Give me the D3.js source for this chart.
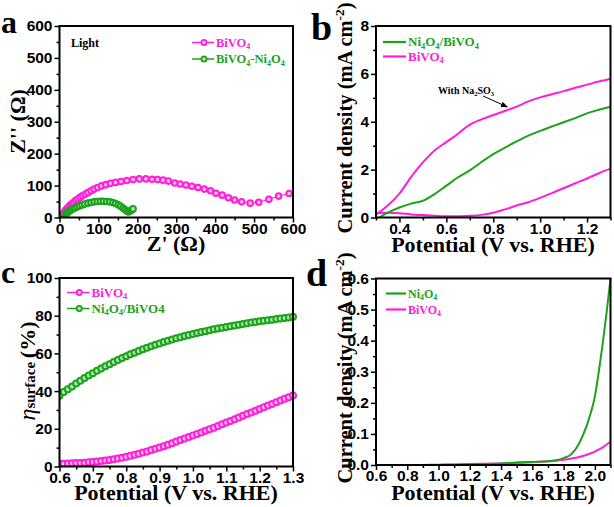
<!DOCTYPE html>
<html>
<head>
<meta charset="utf-8">
<script src="https://cdn.jsdelivr.net/npm/d3@7"></script>
<style>
body { margin: 0; background: #fff; }
svg { font-family: "Liberation Serif", "Times New Roman", serif; font-weight: bold; }
.tick text { font-size: 15.5px; font-weight: bold; fill: #000; }
.tick line { stroke: #000; stroke-width: 1.5; }
</style>
</head>
<body>
<div id="fig"></div>
<script>
// ---- panel a : Nyquist plot (Z', Z'') ----
var eisBiZre = [5, 7, 9, 11, 13, 16, 19, 23, 27, 31, 36, 41, 47, 53, 59, 66, 73, 81, 89, 98, 108, 119, 131, 144, 158, 173, 189, 205, 222, 238, 252, 266, 280, 296, 310, 325, 340, 356, 372, 388, 402, 418, 434, 450, 468, 490, 512, 538, 563, 590];
var eisBiZim = [1, 5, 10, 14, 18, 23, 28, 33, 38, 42, 47, 53, 58, 63, 68, 73, 78, 84, 89, 94, 99, 103, 107, 110, 113, 116, 119, 121, 121, 120, 119, 117, 114, 108, 105, 102, 98, 94, 89, 84, 76, 70, 62, 55, 49, 45, 48, 57, 67, 75];
var eisNiZre = [11, 13, 15, 18, 21, 25, 29, 34, 39, 45, 51, 58, 65, 73, 81, 89, 97, 105, 113, 121, 129, 137, 144, 151, 157, 163, 168, 173, 177, 181, 185, 189];
var eisNiZim = [1, 4, 8, 12, 16, 20, 23, 27, 30, 33, 36, 39, 42, 45, 47, 49, 50, 51, 51, 50, 49, 47, 44, 40, 35, 30, 25, 20, 17, 20, 23, 27];

// ---- panel b : LSV with Na2SO3 ----
var potB = [0.30, 0.35, 0.40, 0.45, 0.50, 0.55, 0.60, 0.65, 0.70, 0.75, 0.80, 0.85, 0.90, 0.95, 1.00, 1.05, 1.10, 1.15, 1.20, 1.25, 1.30];
var bSulfiteBi = [0.12, 0.5, 1.0, 1.7, 2.3, 2.8, 3.15, 3.5, 3.88, 4.1, 4.28, 4.45, 4.63, 4.85, 5.02, 5.15, 5.28, 5.42, 5.55, 5.68, 5.8];
var bNi = [-0.1, 0.2, 0.42, 0.58, 0.7, 0.98, 1.33, 1.68, 1.97, 2.32, 2.65, 2.92, 3.18, 3.42, 3.62, 3.8, 3.98, 4.15, 4.35, 4.5, 4.63];
var bBi = [0.18, 0.2, 0.18, 0.13, 0.1, 0.07, 0.05, 0.05, 0.07, 0.11, 0.2, 0.34, 0.5, 0.64, 0.82, 1.02, 1.22, 1.43, 1.63, 1.85, 2.04];

// ---- panel c : surface charge-transfer efficiency ----
var potC = [0.6, 0.6125, 0.625, 0.6375, 0.65, 0.6625, 0.675, 0.6875, 0.7, 0.7125, 0.725, 0.7375, 0.75, 0.7625, 0.775, 0.7875, 0.8, 0.8125, 0.825, 0.8375, 0.85, 0.8625, 0.875, 0.8875, 0.9, 0.9125, 0.925, 0.9375, 0.95, 0.9625, 0.975, 0.9875, 1.0, 1.0125, 1.025, 1.0375, 1.05, 1.0625, 1.075, 1.0875, 1.1, 1.1125, 1.125, 1.1375, 1.15, 1.1625, 1.175, 1.1875, 1.2, 1.2125, 1.225, 1.2375, 1.25, 1.2625, 1.275, 1.2875, 1.3];
var etaBi = [1.5, 1.5, 1.6, 1.7, 1.8, 1.9, 2.0, 2.2, 2.4, 2.6, 2.9, 3.2, 3.5, 3.9, 4.3, 4.7, 5.2, 5.7, 6.2, 6.8, 7.4, 8.0, 8.7, 9.4, 10.1, 10.8, 11.6, 12.4, 13.2, 14.0, 14.8, 15.6, 16.4, 17.2, 18.0, 18.9, 19.7, 20.6, 21.5, 22.4, 23.3, 24.2, 25.1, 26.0, 26.9, 27.8, 28.7, 29.6, 30.5, 31.4, 32.3, 33.2, 34.1, 35.0, 35.9, 36.8, 37.7];
var etaNi = [37.5, 39.5, 41, 42.5, 44, 45.5, 47, 48.3, 49.5, 50.8, 52, 53.2, 54.3, 55.4, 56.5, 57.5, 58.5, 59.5, 60.4, 61.3, 62.2, 63, 63.8, 64.6, 65.3, 66, 66.7, 67.4, 68, 68.6, 69.2, 69.8, 70.3, 70.8, 71.3, 71.8, 72.3, 72.8, 73.2, 73.6, 74, 74.4, 74.8, 75.2, 75.6, 76, 76.4, 76.7, 77, 77.3, 77.6, 77.9, 78.2, 78.5, 78.8, 79.1, 79.4];

// ---- panel d : electrocatalytic LSV ----
var potD = [0.65, 0.7, 0.8, 0.9, 1.0, 1.1, 1.2, 1.3, 1.4, 1.5, 1.6, 1.7, 1.75, 1.8, 1.85, 1.9, 1.95, 1.975, 2.0, 2.025, 2.05, 2.075, 2.1];
var dNi = [-0.005, -0.003, -0.002, -0.001, 0, 0.001, 0.002, 0.003, 0.005, 0.008, 0.01, 0.012, 0.015, 0.022, 0.035, 0.07, 0.13, 0.17, 0.22, 0.3, 0.39, 0.49, 0.6];
var dBi = [-0.005, -0.002, -0.001, 0, 0.001, 0.002, 0.003, 0.004, 0.005, 0.007, 0.009, 0.012, 0.014, 0.017, 0.021, 0.026, 0.033, 0.038, 0.043, 0.05, 0.057, 0.066, 0.075];

var pink = '#ff1fd8', green = '#1ca31c';
var pinkFill = '#ffc4f4', greenFill = '#b4e6b4';

var svg = d3.select('#fig').append('svg').attr('width', 614).attr('height', 507);

var defs = svg.append('defs');
defs.append('marker').attr('id', 'arrow').attr('viewBox', '0 0 10 10')
    .attr('refX', 9).attr('refY', 5).attr('markerWidth', 7).attr('markerHeight', 7)
    .attr('orient', 'auto')
    .append('path').attr('d', 'M0,1L10,5L0,9z').attr('fill', '#000');

// "_4" -> subscript 4, "^-2" -> superscript
function formula(sel, str, size) {
    var re = /([_^])(-?\d)|([^_^]+)/g, m, shift = 0;
    while ((m = re.exec(str)) !== null) {
        var t = sel.append('tspan');
        if (m[3]) {
            t.text(m[3]).attr('font-size', size).attr('dy', -shift);
            shift = 0;
        } else {
            var s = m[1] === '_' ? 0.22 * size : -0.38 * size;
            t.text(m[2]).attr('font-size', 0.65 * size).attr('dy', s - shift);
            shift = s;
        }
    }
    return sel;
}

var clipId = 0;
function panel(cfg) {
    var x = d3.scaleLinear().domain(cfg.xd).range([cfg.x0, cfg.x1]);
    var y = d3.scaleLinear().domain(cfg.yd).range([cfg.y1, cfg.y0]);
    var g = svg.append('g');

    g.append('g').attr('transform', `translate(0,${cfg.y1})`)
        .call(d3.axisBottom(x).tickValues(cfg.xMinor).tickSize(3).tickFormat(''))
        .call(a => a.select('.domain').remove());
    g.append('g').attr('transform', `translate(0,${cfg.y1})`)
        .call(d3.axisBottom(x).tickValues(cfg.xMajor).tickSize(5).tickPadding(0).tickFormat(cfg.xf))
        .call(a => a.select('.domain').remove());
    g.append('g').attr('transform', `translate(${cfg.x0},0)`)
        .call(d3.axisLeft(y).tickValues(cfg.yMinor).tickSize(3).tickFormat(''))
        .call(a => a.select('.domain').remove());
    g.append('g').attr('transform', `translate(${cfg.x0},0)`)
        .call(d3.axisLeft(y).tickValues(cfg.yMajor).tickSize(5).tickPadding(2).tickFormat(cfg.yf))
        .call(a => a.select('.domain').remove());

    var id = 'clip' + (clipId++);
    defs.append('clipPath').attr('id', id).append('rect')
        .attr('x', cfg.x0).attr('y', cfg.y0 - 4)
        .attr('width', cfg.x1 - cfg.x0 + 4).attr('height', cfg.y1 - cfg.y0 + 4);
    var plot = g.append('g').attr('clip-path', `url(#${id})`);

    g.append('rect').attr('x', cfg.x0).attr('y', cfg.y0)
        .attr('width', cfg.x1 - cfg.x0).attr('height', cfg.y1 - cfg.y0)
        .attr('fill', 'none').attr('stroke', '#000').attr('stroke-width', 2);

    g.append('text').attr('x', cfg.letter[0]).attr('y', cfg.letter[1])
        .attr('font-size', cfg.letter[3]).text(cfg.letter[2]);

    return { x: x, y: y, g: g, plot: plot };
}

function line(p, xs, ys, color, w) {
    p.plot.append('path').datum(d3.zip(xs, ys))
        .attr('fill', 'none').attr('stroke', color).attr('stroke-width', w)
        .attr('d', d3.line().x(d => p.x(d[0])).y(d => p.y(d[1])).curve(d3.curveMonotoneX));
}

function dots(p, xs, ys, color, fill, r) {
    p.plot.append('path').datum(d3.zip(xs, ys))
        .attr('fill', 'none').attr('stroke', color).attr('stroke-width', 1)
        .attr('d', d3.line().x(d => p.x(d[0])).y(d => p.y(d[1])));
    p.plot.append('g').selectAll('circle').data(d3.zip(xs, ys)).enter().append('circle')
        .attr('cx', d => p.x(d[0])).attr('cy', d => p.y(d[1])).attr('r', r)
        .attr('fill', fill).attr('stroke', color).attr('stroke-width', 2);
}

function legendItem(g, x0, x1, yy, color, label, size, fill) {
    g.append('line').attr('x1', x0).attr('x2', x1).attr('y1', yy).attr('y2', yy)
        .attr('stroke', color).attr('stroke-width', fill ? 1.5 : 2.2);
    if (fill) {
        g.append('circle').attr('cx', (x0 + x1) / 2 + 1).attr('cy', yy).attr('r', 2.6)
            .attr('fill', fill).attr('stroke', color).attr('stroke-width', 1.8);
    }
    formula(g.append('text').attr('x', x1 + 2).attr('y', yy + 4).attr('fill', color), label, size);
}

function yLabel(g, x, y, label, size) {
    formula(g.append('text').attr('text-anchor', 'middle')
        .attr('transform', `translate(${x},${y}) rotate(-90)`), label, size);
}

function xLabel(g, x, y, label, size) {
    g.append('text').attr('x', x).attr('y', y).attr('text-anchor', 'middle')
        .attr('font-size', size).text(label);
}

// ---- a ----
var pa = panel({
    x0: 59.5, x1: 293, y0: 26, y1: 217.5, xd: [0, 600], yd: [0, 600],
    xMajor: [0, 100, 200, 300, 400, 500, 600], xMinor: [50, 150, 250, 350, 450, 550],
    yMajor: [0, 100, 200, 300, 400, 500, 600], yMinor: [50, 150, 250, 350, 450, 550],
    xf: d3.format('d'), yf: d3.format('d'), letter: [1, 33, 'a', 32]
});
dots(pa, eisBiZre, eisBiZim, pink, pinkFill, 2.8);
dots(pa, eisNiZre, eisNiZim, green, greenFill, 2.8);
pa.g.append('text').attr('x', 71).attr('y', 47).attr('font-size', 12).text('Light');
legendItem(pa.g, 192, 214, 42.5, pink, 'BiVO_4', 12.5, pinkFill);
legendItem(pa.g, 192, 214, 59, green, 'BiVO_4-Ni_4O_4', 12.5, greenFill);
yLabel(pa.g, 25, 121.5, "Z'' (\u03a9)", 22);
xLabel(pa.g, 176, 251, "Z' (\u03a9)", 22);

// ---- b ----
var pb = panel({
    x0: 376, x1: 610.5, y0: 26, y1: 217.5, xd: [0.3, 1.3], yd: [0, 8],
    xMajor: [0.4, 0.6, 0.8, 1.0, 1.2], xMinor: [0.3, 0.5, 0.7, 0.9, 1.1, 1.3],
    yMajor: [0, 2, 4, 6, 8], yMinor: [1, 3, 5, 7],
    xf: d3.format('.1f'), yf: d3.format('d'), letter: [311, 40, 'b', 38]
});
line(pb, potB, bBi, pink, 2);
line(pb, potB, bSulfiteBi, pink, 2);
line(pb, potB, bNi, green, 2);
legendItem(pb.g, 383, 406, 42, green, 'Ni_4O_4/BiVO_4', 13, null);
legendItem(pb.g, 383, 406, 56.5, pink, 'BiVO_4', 13, null);
formula(pb.g.append('text').attr('x', 438).attr('y', 94), 'With Na_2SO_3', 10);
pb.g.append('line').attr('x1', 483).attr('y1', 96).attr('x2', pb.x(0.86)).attr('y2', pb.y(4.62))
    .attr('stroke', '#000').attr('stroke-width', 1).attr('marker-end', 'url(#arrow)');
yLabel(pb.g, 352, 118, 'Current density (mA cm^-2)', 20.5);
xLabel(pb.g, 493, 252, 'Potential (V vs. RHE)', 22);

// ---- c ----
var pc = panel({
    x0: 59.5, x1: 293, y0: 278, y1: 466.5, xd: [0.6, 1.3], yd: [0, 100],
    xMajor: [0.6, 0.7, 0.8, 0.9, 1.0, 1.1, 1.2, 1.3], xMinor: [0.65, 0.75, 0.85, 0.95, 1.05, 1.15, 1.25],
    yMajor: [0, 20, 40, 60, 80, 100], yMinor: [10, 30, 50, 70, 90],
    xf: d3.format('.1f'), yf: d3.format('d'), letter: [1, 283, 'c', 32]
});
dots(pc, potC, etaBi, pink, pinkFill, 3);
dots(pc, potC, etaNi, green, greenFill, 3);
legendItem(pc.g, 67, 89.5, 292.5, pink, 'BiVO_4', 13, pinkFill);
legendItem(pc.g, 67, 89.5, 308.5, green, 'Ni_4O_4/BiVO4', 13, greenFill);
var eta = pc.g.append('text').attr('text-anchor', 'middle')
    .attr('transform', 'translate(35,371) rotate(-90)');
eta.append('tspan').attr('font-style', 'italic').attr('font-weight', 'normal').attr('font-size', 24).text('\u03b7');
eta.append('tspan').attr('font-size', 15).text('surface ');
eta.append('tspan').attr('font-size', 22).text('(%)');
xLabel(pc.g, 176, 500, 'Potential (V vs. RHE)', 22);

// ---- d ----
var pd = panel({
    x0: 376, x1: 610.5, y0: 278.5, y1: 465, xd: [0.6, 2.1], yd: [0, 0.6],
    xMajor: [0.6, 0.8, 1.0, 1.2, 1.4, 1.6, 1.8, 2.0], xMinor: [0.7, 0.9, 1.1, 1.3, 1.5, 1.7, 1.9, 2.1],
    yMajor: [0, 0.1, 0.2, 0.3, 0.4, 0.5, 0.6], yMinor: [0.05, 0.15, 0.25, 0.35, 0.45, 0.55],
    xf: d3.format('.1f'), yf: d3.format('.1f'), letter: [306, 286, 'd', 38]
});
line(pd, potD, dBi, pink, 2);
line(pd, potD, dNi, green, 2);
legendItem(pd.g, 386, 406, 293.5, green, 'Ni_4O_4', 12, null);
legendItem(pd.g, 386, 406, 309.5, pink, 'BiVO_4', 12, null);
yLabel(pd.g, 352, 368, 'Current density (mA cm^-2)', 20.5);
xLabel(pd.g, 493, 500, 'Potential (V vs. RHE)', 22);
</script>
</body>
</html>
